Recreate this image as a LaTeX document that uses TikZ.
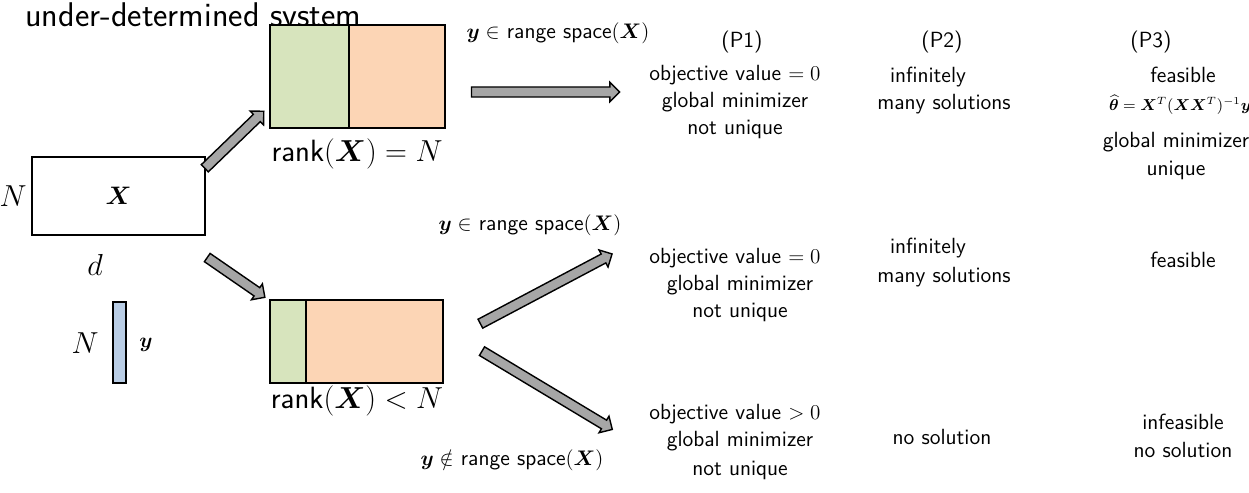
\documentclass[tikz,border=0pt]{standalone}
\usepackage{amsmath,amssymb,bm}
\usetikzlibrary{shapes.arrows}
\renewcommand{\familydefault}{\sfdefault}
\definecolor{gr}{HTML}{D7E4BD}
\definecolor{orr}{HTML}{FCD5B5}
\definecolor{bl}{HTML}{B9CDE5}
\begin{document}
\begin{tikzpicture}[x=0.02cm,y=-0.02cm,
  txt/.style={font=\fontsize{12.5}{14}\selectfont, inner sep=0pt},
  big/.style={font=\fontsize{17.5}{20}\selectfont, inner sep=0pt},
  arr/.style={single arrow, draw=black, fill=black!35, line width=0.8pt, inner sep=2.3pt, minimum width=11pt, single arrow head extend=2.5pt},
  box/.style={draw=black, line width=1.6pt}]
\useasboundingbox (0,0) rectangle (1249,493);
\node[font=\fontsize{19.5}{21}\selectfont, anchor=west, inner sep=0pt] (title) at (25,18) {under-determined system};
% X matrix
\node[box, minimum width=173*0.02cm, minimum height=78*0.02cm] (X) at (118.5,196) {\Large$\bm{X}$};
\node[big] (NX) at (13,196) {$N$};
\node[big] (d) at (95,265) {$d$};
% y vector
\node[draw=black, line width=1.6pt, fill=bl, minimum width=13*0.02cm, minimum height=81*0.02cm, inner sep=0pt] (yv) at (119.5,342.5) {};
\node[big] (Ny) at (85,343) {$N$};
\node[txt] (yl) at (146,345) {$\bm{y}$};
% top rect
\fill[gr] (270,25) rectangle (349,128);
\fill[orr] (349,25) rectangle (445,128);
\draw[line width=1.6pt] (349,25) -- (349,128);
\node[box, minimum width=175*0.02cm, minimum height=103*0.02cm] (R1) at (357.5,76.5) {};
\node[big] (r1) at (357,154) {rank$(\bm{X})=N$};
% bottom rect
\fill[gr] (270,300) rectangle (306,383);
\fill[orr] (306,300) rectangle (443,383);
\draw[line width=1.6pt] (306,300) -- (306,383);
\node[box, minimum width=173*0.02cm, minimum height=83*0.02cm] (R2) at (356.5,341.5) {};
\node[big] (r2) at (357,401) {rank$(\bm{X})<N$};
% arrows
\node[arr, minimum height=82*0.02cm, rotate=44] (a1) at (232.5,141.5) {};
\node[arr, minimum height=70*0.02cm, rotate=-34.6] (a2) at (234,276) {};
\node[arr, minimum height=148*0.02cm, rotate=0] (a3) at (543,92) {};
\node[arr, minimum height=149*0.02cm, rotate=27.9] (a4) at (544,290) {};
\node[arr, minimum height=152*0.02cm, rotate=-31] (a5) at (545,389) {};
% condition labels
\node[txt] (c1) at (558,33) {$\bm{y}\in$ range space$(\bm{X})$};
\node[txt] (c2) at (530,225) {$\bm{y}\in$ range space$(\bm{X})$};
\node[txt] (c3) at (512,460) {$\bm{y}\notin$ range space$(\bm{X})$};
% headers
\node[txt] (P1) at (742,42) {(P1)};
\node[txt] (P2) at (942,42) {(P2)};
\node[txt] (P3) at (1151,42) {(P3)};
% row 1
\node[txt] (p11) at (735,75) {objective value $=0$};
\node[txt] (p12) at (735,102) {global minimizer};
\node[txt] (p13) at (735,129) {not unique};
\node[txt] (p21) at (928,77) {infinitely};
\node[txt] (p22) at (944,104) {many solutions};
\node[txt] (p31) at (1183,75) {feasible};
\node[font=\fontsize{9}{11}\selectfont, inner sep=0pt] (p32) at (1180,105) {$\widehat{\bm{\theta}}=\bm{X}^T(\bm{X}\bm{X}^T)^{-1}\bm{y}$};
\node[txt] (p33) at (1176,142) {global minimizer};
\node[txt] (p34) at (1176,170) {unique};
% row 2
\node[txt] (q11) at (735,258) {objective value $=0$};
\node[txt] (q12) at (740,285) {global minimizer};
\node[txt] (q13) at (740,312) {not unique};
\node[txt] (q21) at (928,248) {infinitely};
\node[txt] (q22) at (944,277) {many solutions};
\node[txt] (q31) at (1183,260) {feasible};
% row 3
\node[txt] (s11) at (735,414) {objective value $>0$};
\node[txt] (s12) at (740,441) {global minimizer};
\node[txt] (s13) at (740,470) {not unique};
\node[txt] (s21) at (942,437) {no solution};
\node[txt] (s31) at (1183,422) {infeasible};
\node[txt] (s32) at (1183,450) {no solution};
\end{tikzpicture}
\end{document}
